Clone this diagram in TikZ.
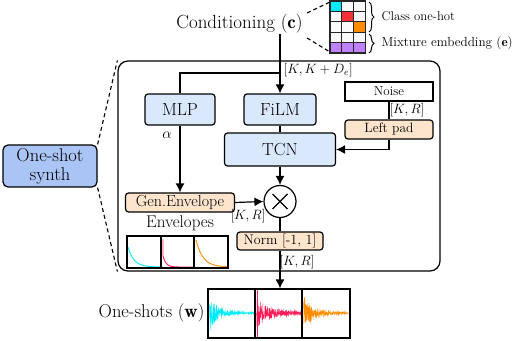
\RequirePackage{fix-cm}
\documentclass[tikz,border=0pt]{standalone}
\usepackage{fontspec}
\usetikzlibrary{arrows.meta,decorations.pathreplacing,calc}
\definecolor{blueL}{HTML}{DAE8FC}
\definecolor{blueM}{HTML}{A9C4F5}
\definecolor{peach}{HTML}{FDE4CC}
\definecolor{cyanW}{RGB}{0,235,250}
\definecolor{pinkW}{RGB}{255,30,90}
\definecolor{orangeW}{RGB}{255,140,0}
\definecolor{redC}{RGB}{245,50,55}
\definecolor{purpC}{RGB}{190,130,255}
\definecolor{cellC}{RGB}{250,250,250}
\newcommand\setfs[1]{\fontsize{#1}{#1}\selectfont}
\tikzset{
  box/.style={draw, rounded corners=3pt, line width=1.2pt, inner sep=0pt, align=center},
  bluebox/.style={box, fill=blueL},
  peachbox/.style={box, fill=peach},
  lbl/.style={inner sep=0pt},
  arr/.style={-{Latex[length=9pt,width=9pt]}},
  dashln/.style={dashed, dash pattern=on 4pt off 3pt, line width=1.1pt},
}
\begin{document}
\begin{tikzpicture}[x=1pt,y=-1pt,line width=1.2pt]
\useasboundingbox (0,0) rectangle (514,340);
% big box
\node[draw, rounded corners=10pt, line width=1.2pt, minimum width=322pt, minimum height=210pt, inner sep=0pt] (synthbox) at (279,166) {};
% one-shot synth
\node[box, fill=blueM, rounded corners=5pt, minimum width=94pt, minimum height=42pt, font=\fontsize{18.5}{19}\selectfont] (synth) at (50,166) {One-shot\\synth};
\draw[dashln] (synth.north east) -- (synthbox.north west);
\draw[dashln] (synth.south east) -- (synthbox.south west);
% conditioning
\node[lbl] (cond) at (239.5,24) {\setfs{19}Conditioning ($\mathbf{c}$)};
% grid
\fill[cellC] (330,1) rectangle (365.1,53);
\fill[cyanW] (330,1) rectangle ++(11.7,10.4);
\fill[redC] (341.7,11.4) rectangle ++(11.7,10.4);
\fill[orangeW] (353.4,21.8) rectangle ++(11.7,10.4);
\fill[purpC] (330,42.6) rectangle ++(35.1,10.4);
\foreach \c in {1,2}{\draw[line width=1.1pt, black!85] ({330+\c*11.7},1) -- ({330+\c*11.7},53);}
\foreach \r in {1,...,4}{\draw[line width=1.1pt, black!85] (330,{1+\r*10.4}) -- (365.1,{1+\r*10.4});}
\draw[line width=1.1pt, black!85] (330,1) rectangle (365.1,53);
\coordinate (gtl) at (330,2);
\coordinate (gbl) at (330,52);
\coordinate (c1) at (307,13);
\coordinate (c2) at (307,38);
\draw[dashln] (c1) -- (gtl);
\draw[dashln] (c2) -- (gbl);
\draw[decorate, decoration={brace, amplitude=5pt}, line width=1pt] (369,2) -- (369,32);
\draw[decorate, decoration={brace, amplitude=5pt}, line width=1pt] (369,34) -- (369,53);
\node[lbl, anchor=west] (oh) at (381,16) {\setfs{12.7}Class one-hot};
\node[lbl, anchor=west] (me) at (381,43) {\setfs{13.2}Mixture embedding ($\mathbf{e}$)};
% blocks
\node[bluebox, minimum width=70pt, minimum height=31pt] (mlp) at (180,109.5) {\setfs{17.5}MLP};
\node[bluebox, minimum width=72pt, minimum height=31pt] (film) at (280,109.5) {\setfs{17.5}FiLM};
\node[bluebox, minimum width=111pt, minimum height=33pt] (tcn) at (280,149.5) {\setfs{17.5}TCN};
\node[box, fill=white, rounded corners=0pt, minimum width=88pt, minimum height=19pt] (noise) at (389,91.5) {\setfs{13}Noise};
\node[peachbox, minimum width=88pt, minimum height=19pt] (lpad) at (389,129.5) {\setfs{13.5}Left pad};
\node[peachbox, minimum width=109pt, minimum height=19pt] (genv) at (180,202.5) {\setfs{16}Gen.Envelope};
\node[draw, circle, line width=1.2pt, minimum size=32pt, inner sep=0pt] (mul) at (280,201.5) {};
\draw[line width=1.2pt] ($(mul.center)+(-7.5,-7.5)$) -- ($(mul.center)+(7.5,7.5)$);
\draw[line width=1.2pt] ($(mul.center)+(-7.5,7.5)$) -- ($(mul.center)+(7.5,-7.5)$);
\node[peachbox, minimum width=86pt, minimum height=18pt] (norm) at (280,241) {\setfs{14}Norm [-1, 1]};
% connectors
\coordinate (br) at (280,73);
\draw[arr] (cond.south -| film.north) -- (film.north);
\draw (br) -| (mlp.north);
\node[lbl, anchor=west] (kkd) at (283,70) {\setfs{13.5}$[K,K+D_e]$};
\draw (noise.south) -- (lpad.north);
\node[lbl] (kr1) at (407,110) {\setfs{13.5}$[K,R]$};
\draw[arr] (lpad.south) |- (tcn.east);
\draw (film.south) -- (tcn.north);
\draw[arr] (mlp.south) -- (genv.north);
\node[lbl] (alpha) at (167,135) {\setfs{15}$\alpha$};
\draw[arr] (tcn.south) -- (mul.north);
\draw[arr] (genv.east) -- (mul.west);
\node[lbl] (kr2) at (248,216) {\setfs{13.5}$[K,R]$};
\draw (mul.south) -- (norm.north);
% envelopes
\node[lbl] (envl) at (180,223) {\setfs{17}Envelopes};
\draw[cyanW, line width=0.9pt] plot[domain=0:32, samples=60] ({128+\x},{267-20*exp(-\x/6)});
\draw[pinkW, line width=0.9pt] (163,239) -- (163,256) plot[domain=0:30, samples=60] ({163+\x},{267-11*exp(-\x/3)});
\draw[orangeW, line width=0.9pt] plot[domain=0:31, samples=60] ({196+\x},{267-27*exp(-\x/7)});
\node[draw, line width=1.2pt, minimum width=101pt, minimum height=32pt, inner sep=0pt] (envbox) at (177.5,252) {};
\draw (161,236) -- (161,268);
\draw (194,236) -- (194,268);
% waveforms
\pgfmathsetseed{7}
\draw[cyanW, line width=0.5pt] plot[domain=0:45, samples=220] ({209.5+\x},{313+(0.8+19*exp(-\x/7))*rand});
\draw[pinkW, line width=0.5pt] plot[domain=0:45, samples=220] ({256.5+\x},{313+(1.5+16*exp(-\x/11))*rand});
\draw[pinkW, line width=1.3pt] (257.5,290) -- (257.5,337);
\draw[orangeW, line width=0.5pt] plot[domain=0:45, samples=220] ({303.5+\x},{313+(1+17*exp(-\x/9))*rand});
\node[draw, line width=1.2pt, minimum width=142pt, minimum height=49pt, inner sep=0pt] (wave) at (279,313.5) {};
\draw (255,289) -- (255,338);
\draw (302,289) -- (302,338);
\node[lbl, anchor=east] (wl) at (205,313) {\setfs{18.5}One-shots ($\mathbf{w}$)};
\draw[arr] (norm.south) -- (norm.south |- wave.north);
\node[lbl] (kr3) at (297,262) {\setfs{13.5}$[K,R]$};
\end{tikzpicture}
\end{document}
